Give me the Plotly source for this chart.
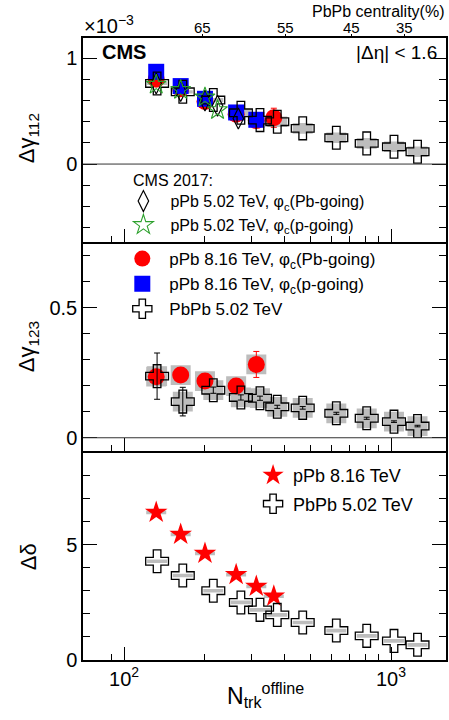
import math
import plotly.graph_objects as go

# ---------------- data ----------------
# PbPb 5.02 TeV
pbpb_n = [133, 166, 216, 274, 323, 375, 467, 624, 811, 1026, 1257]
pbpb_g112 = [0.761, 0.682, 0.604, 0.484, 0.415, 0.400, 0.337, 0.248, 0.195, 0.163, 0.116]
pbpb_g112_sys = [0.015, 0.015, 0.02, 0.03, 0.04, 0.05, 0.05, 0.05, 0.05, 0.05, 0.05]
pbpb_g123 = [0.237, 0.139, 0.183, 0.155, 0.152, 0.119, 0.115, 0.094, 0.075, 0.062, 0.045]
pbpb_g123_err = [0.089, 0.055, 0.012, 0.010, 0.008, 0.006, 0.005, 0.004, 0.004, 0.003, 0.003]
pbpb_g123_sys = [0.038] * 11
pbpb_dd = [4.29, 3.67, 3.01, 2.50, 2.18, 1.96, 1.63, 1.28, 1.05, 0.83, 0.66]
pbpb_dd_sys = [0.08] * 11

# pPb 8.16 TeV
ppb816_n = [132, 163, 201, 263, 313, 364]
ppb816_pb_g112 = [0.80, 0.71, 0.59, 0.47, 0.41, 0.437]
ppb816_pb_g112_err = [0.04, 0.04, 0.04, 0.05, 0.06, 0.09]
ppb816_p_g112 = [0.871, 0.736, 0.616, 0.487, 0.418]
ppb816_pb_g123 = [0.235, 0.241, 0.218, 0.199, 0.282]
ppb816_pb_g123_err = [0.02, 0.02, 0.02, 0.02, 0.05]
ppb816_pb_g123_sys = [0.038] * 5
ppb816_dd = [6.41, 5.46, 4.63, 3.71, 3.20, 2.77]
ppb816_dd_sys = [0.08] * 6

# pPb 5.02 TeV (CMS 2017)
ppb502_n = [132, 163, 201, 224, 268]
ppb502_pb_g112 = [0.76, 0.69, 0.60, 0.55, 0.43]
ppb502_p_g112 = [0.75, 0.70, 0.63, 0.51]

# axis ticks
centrality_n = [196, 404, 711, 1120]
centrality_lbl = ["65", "55", "45", "35"]
x_major = [100, 1000]
x_major_lbl = ["10<sup>2</sup>", "10<sup>3</sup>"]
x_minor = [90, 200, 300, 400, 500, 600, 700, 800, 900]

FONT = "Liberation Sans, Arial, sans-serif"
GRAY = "#bdbdbd"
BOXF = 1.09


def boxes(xs, ys, ss, f=BOXF):
    bx, by = [], []
    for x, y, s in zip(xs, ys, ss):
        bx += [x / f, x * f, x * f, x / f, x / f, None]
        by += [y - s, y - s, y + s, y + s, y - s, None]
    return bx, by


fig = go.Figure()


def add_box(xs, ys, ss, xa, ya):
    bx, by = boxes(xs, ys, ss)
    fig.add_trace(go.Scatter(x=bx, y=by, mode="lines", fill="toself", fillcolor=GRAY,
                             line=dict(width=0), hoverinfo="skip", showlegend=False,
                             xaxis=xa, yaxis=ya))


cross = dict(symbol="cross-open", size=19, color="black", line=dict(width=1.3, color="black"))

# ---------- top panel (x3, y3) ----------
add_box(pbpb_n, pbpb_g112, pbpb_g112_sys, "x3", "y3")
fig.add_trace(go.Scatter(x=ppb816_n, y=ppb816_pb_g112, mode="markers",
                         marker=dict(symbol="circle", size=17, color="#ff0000"),
                         error_y=dict(type="data", array=ppb816_pb_g112_err, color="#ff0000", thickness=1, width=3),
                         name="pPb 8.16 TeV, φ<sub>c</sub>(Pb-going)", legend="legend2",
                         legendgroup="a", xaxis="x3", yaxis="y3"))
fig.add_trace(go.Scatter(x=ppb816_n[:5], y=ppb816_p_g112, mode="markers",
                         marker=dict(symbol="square", size=16, color="#0000ff"),
                         name="pPb 8.16 TeV, φ<sub>c</sub>(p-going)", legend="legend2",
                         legendgroup="b", xaxis="x3", yaxis="y3"))
fig.add_trace(go.Scatter(x=pbpb_n, y=pbpb_g112, mode="markers", marker=cross,
                         showlegend=False, xaxis="x3", yaxis="y3"))
fig.add_trace(go.Scatter(x=ppb502_n, y=ppb502_pb_g112, mode="markers",
                         marker=dict(symbol="diamond-tall-open", size=15, color="black", line=dict(width=1.2)),
                         name="pPb 5.02 TeV, φ<sub>c</sub>(Pb-going)", legend="legend",
                         legendgroup="c", xaxis="x3", yaxis="y3"))
fig.add_trace(go.Scatter(x=ppb502_n[:4], y=ppb502_p_g112, mode="markers",
                         marker=dict(symbol="star-open", size=15, color="#2ca02c", line=dict(width=1.1)),
                         name="pPb 5.02 TeV, φ<sub>c</sub>(p-going)", legend="legend",
                         legendgroup="d", xaxis="x3", yaxis="y3"))
# dummy for top centrality axis
fig.add_trace(go.Scatter(x=[centrality_n[0]], y=[0], mode="markers", marker=dict(opacity=0),
                         showlegend=False, hoverinfo="skip", xaxis="x4", yaxis="y3"))

# ---------- middle panel (x2, y2) ----------
add_box(pbpb_n, pbpb_g123, pbpb_g123_sys, "x2", "y2")
add_box(ppb816_n[:5], ppb816_pb_g123, ppb816_pb_g123_sys, "x2", "y2")
fig.add_trace(go.Scatter(x=ppb816_n[:5], y=ppb816_pb_g123, mode="markers",
                         marker=dict(symbol="circle", size=17, color="#ff0000"),
                         error_y=dict(type="data", array=ppb816_pb_g123_err, color="#ff0000", thickness=1, width=3),
                         showlegend=False, xaxis="x2", yaxis="y2"))
fig.add_trace(go.Scatter(x=pbpb_n, y=pbpb_g123, mode="markers", marker=cross,
                         error_y=dict(type="data", array=pbpb_g123_err, color="black", thickness=1, width=3),
                         name="PbPb 5.02 TeV", legend="legend2", legendgroup="e",
                         xaxis="x2", yaxis="y2"))

# ---------- bottom panel (x, y) ----------
add_box(pbpb_n, pbpb_dd, pbpb_dd_sys, "x", "y")
add_box(ppb816_n, ppb816_dd, ppb816_dd_sys, "x", "y")
fig.add_trace(go.Scatter(x=ppb816_n, y=ppb816_dd, mode="markers",
                         marker=dict(symbol="star", size=17, color="#ff0000", line=dict(width=0)),
                         name="pPb 8.16 TeV", legend="legend3", legendgroup="f", xaxis="x", yaxis="y"))
fig.add_trace(go.Scatter(x=pbpb_n, y=pbpb_dd, mode="markers", marker=cross,
                         name="PbPb 5.02 TeV", legend="legend3", legendgroup="g", xaxis="x", yaxis="y"))

# ---------------- layout ----------------
XR = [math.log10(70.2), math.log10(1607)]
D_BOT = [0.0, 0.336]
D_MID = [0.336, 0.672]
D_TOP = [0.672, 1.0]
LW = 1.5

tickfont = dict(family=FONT, size=20, color="black")


def xax(anchor, labels, mirror):
    return dict(type="log", range=XR, domain=[0, 1], anchor=anchor,
                showline=True, linecolor="black", linewidth=LW, mirror=mirror,
                ticks="inside", ticklen=13, tickwidth=1, tickcolor="black",
                tickvals=x_major, ticktext=x_major_lbl, showticklabels=labels,
                tickfont=tickfont, showgrid=False, zeroline=False,
                minor=dict(ticks="inside", ticklen=6, tickwidth=1, tickcolor="black",
                           tickvals=x_minor, showgrid=False))


def yax(anchor, dom, rng, tv, tt, dminor):
    return dict(domain=dom, range=rng, anchor=anchor,
                showline=True, linecolor="black", linewidth=LW, mirror="ticks",
                ticks="inside", ticklen=14, tickwidth=1, tickcolor="black",
                tickvals=tv, ticktext=tt, tickfont=tickfont, showgrid=False,
                zeroline=False,
                minor=dict(ticks="inside", ticklen=7, tickwidth=1, tickcolor="black",
                           dtick=dminor, tick0=0, showgrid=False))


fig.update_layout(
    width=449, height=720,
    margin=dict(l=83, r=1, t=38, b=60),
    paper_bgcolor="white", plot_bgcolor="white",
    font=dict(family=FONT, color="black"),
    xaxis=xax("y", True, False),
    xaxis2=xax("y2", False, False),
    xaxis3=xax("y3", False, True),
    xaxis4=dict(type="log", range=XR, overlaying="x3", side="top", anchor="y3",
                tickvals=centrality_n, showticklabels=False, ticks="outside",
                ticklen=3, tickcolor="black", showline=False, showgrid=False,
                zeroline=False),
    yaxis=yax("x", D_BOT, [0, 9.08], [0, 5], ["0", "5"], 1),
    yaxis2=yax("x2", D_MID, [-0.051, 0.753], [0, 0.5], ["0", "0.5"], 0.1),
    yaxis3=yax("x3", D_TOP, [-0.736, 1.19], [0, 1], ["0", "1"], 0.2),
    showlegend=True,
    legend=dict(x=0.092, y=0.765, xanchor="left", yanchor="top", bgcolor="rgba(0,0,0,0)",
                font=dict(family=FONT, size=16), itemwidth=44, tracegroupgap=0),
    legend2=dict(x=0.089, y=0.6736, xanchor="left", yanchor="top", bgcolor="rgba(0,0,0,0)",
                 font=dict(family=FONT, size=17), itemwidth=44, tracegroupgap=0,
                 traceorder="normal"),
    legend3=dict(x=0.4685, y=0.3262, xanchor="left", yanchor="top", bgcolor="rgba(0,0,0,0)",
                 font=dict(family=FONT, size=18), itemwidth=30, tracegroupgap=2),
)

# zero lines
for ya, xa in (("y3", "x3"), ("y2", "x2")):
    fig.add_shape(type="line", xref=f"{xa} domain", yref=ya, x0=0, x1=1, y0=0, y1=0,
                  line=dict(color="#333333", width=1))

# centrality labels on the top axis
for n, lbl in zip(centrality_n, centrality_lbl):
    fig.add_annotation(text=lbl, xref="x3", yref="paper", x=math.log10(n),
                       y=(660 - 28) / 622, xanchor="center", yanchor="middle",
                       showarrow=False, font=dict(family=FONT, size=15, color="black"))

ann = [
    dict(text="×10<sup>−3</sup>", x=82, y=24, size=20, xanchor="left"),
    dict(text="<b>CMS</b>", x=100, y=52, size=20, xanchor="left"),
    dict(text="|Δη| < 1.6", x=441, y=52, size=19, xanchor="right"),
    dict(text="PbPb centrality(%)", x=449, y=11, size=16, xanchor="right"),
    dict(text="CMS 2017:", x=131, y=180, size=16, xanchor="left"),
]
for a in ann:
    fig.add_annotation(text=a["text"], xref="paper", yref="paper",
                       x=(a["x"] - 83) / 365, y=(660 - a["y"]) / 622,
                       xanchor=a["xanchor"], yanchor="middle", showarrow=False,
                       font=dict(family=FONT, size=a["size"], color="black"))

for txt, py in (("Δγ<sub>112</sub>", 138), ("Δγ<sub>123</sub>", 347), ("Δδ", 557)):
    fig.add_annotation(text=txt, xref="paper", yref="paper", x=(28 - 83) / 365,
                       y=(660 - py) / 622, xanchor="center", yanchor="middle",
                       textangle=-90, showarrow=False,
                       font=dict(family=FONT, size=22, color="black"))

fig.add_annotation(text="N<sub>trk</sub><sup>offline</sup>", xref="paper", yref="paper",
                   x=(267 - 83) / 365, y=(660 - 695) / 622, xanchor="center", yanchor="middle",
                   showarrow=False, font=dict(family=FONT, size=23, color="black"))

fig.write_html("out.html")
